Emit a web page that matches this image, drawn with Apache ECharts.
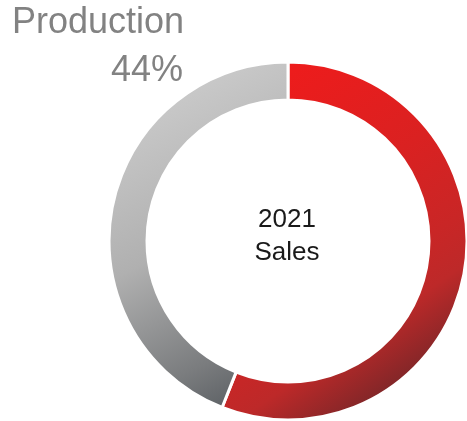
<!DOCTYPE html>
<html>
<head>
<meta charset="utf-8">
<script src="https://cdn.jsdelivr.net/npm/echarts@6/dist/echarts.min.js"></script>
<style>html,body{margin:0;padding:0;background:#fff}#c{width:467px;height:421px}</style>
</head>
<body>
<div id="c"></div>
<script>
var categories = ['Sales', 'Production'];
var values = [56, 44];
var centerLines = ['2021', 'Sales'];
var labelName = 'Production';
var labelValue = '44%';

var gradientStops = [
  [[0, '#f41a1a'], [0.4, '#da2121'], [0.6, '#c92626'], [0.7, '#bd2929'], [0.85, '#7c2628'], [1, '#5a2024']],
  [[0, '#d4d4d4'], [0.5, '#b0b0b0'], [0.8, '#7a7c7e'], [1, '#4d5257']]
];

var chart = echarts.init(document.getElementById('c'), null, {renderer: 'canvas'});
chart.setOption({
  animation: false,
  backgroundColor: '#ffffff',
  graphic: [
    {type: 'text', left: 12, top: 5, style: {text: labelName, font: '36px "Liberation Sans", Arial, sans-serif', fill: '#828282'}},
    {type: 'text', right: 284, top: 53, style: {text: labelValue, font: '36px "Liberation Sans", Arial, sans-serif', fill: '#828282', textAlign: 'right'}},
    {type: 'text', x: 287, y: 203, style: {text: centerLines.join('\n'), font: '26px "Liberation Sans", Arial, sans-serif', fill: '#1a1a1a', textAlign: 'center', lineHeight: 33}}
  ],
  series: [{
    type: 'pie',
    center: [288, 241],
    radius: [141, 179],
    startAngle: 90,
    clockwise: true,
    label: {show: false},
    labelLine: {show: false},
    emphasis: {disabled: true},
    data: categories.map(function (c, i) {
      return {
        name: c,
        value: values[i],
        itemStyle: {
          borderColor: '#ffffff',
          borderWidth: 3,
          color: new echarts.graphic.LinearGradient(0, 0, 1, 1, gradientStops[i].map(function (s) {
            return {offset: s[0], color: s[1]};
          }))
        }
      };
    })
  }]
});
</script>
</body>
</html>
